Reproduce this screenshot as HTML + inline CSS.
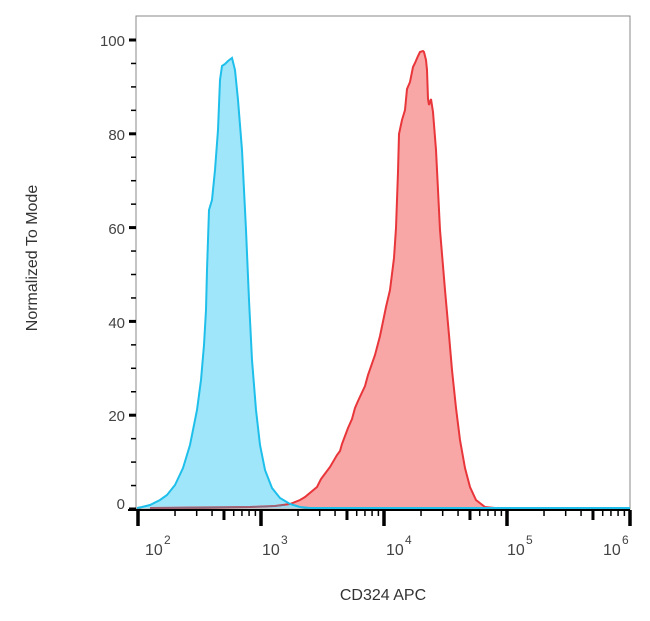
<!DOCTYPE html>
<html><head><style>body{margin:0;background:#fff}svg{display:block}</style></head><body>
<svg width="650" height="621" xmlns="http://www.w3.org/2000/svg" font-family="Liberation Sans, Arial, sans-serif">
<rect x="136" y="16" width="494" height="493" fill="none" stroke="#888" stroke-width="1"/>
<path d="M150,508 L200,507.5 L250,507 L275,506 L290,504 L300,500 L305,497 L317,487 L321,479 L324,475 L330,467 L337,455 L340,451 L342,444 L348,428 L352,419 L355,408 L358,401 L365,386 L368,375 L375,355 L380,336 L386,307 L390,290 L394,258 L396,228 L398,172 L399,134 L402,120 L405,110 L407,89 L410,82 L413,67 L415,63 L418,56 L420,52 L423,51 L424,52 L426,60 L427,70 L428,99 L429,105 L431,99 L433,112 L436,150 L440,230 L445,290 L449,335 L452,370 L456,408 L460,440 L465,468 L470,487 L476,500 L485,507 L495,508 Z" fill="#f9a6a7" stroke="none"/>
<path d="M137,508 L142,507 L150,505 L160,500 L167,495 L175,485 L183,468 L190,445 L197,410 L201,380 L204,345 L206,310 L207,270 L209,210 L212,200 L215,170 L218,130 L220,80 L222,66 L225,64 L228,61 L232,58 L235,70 L238,100 L242,150 L246,230 L249,300 L252,360 L256,410 L260,445 L265,470 L272,488 L280,498 L290,504 L300,507 L310,508 Z" fill="#8fe2fa" fill-opacity="0.85" stroke="none"/>
<path d="M150,508 L200,507.5 L250,507 L275,506 L290,504 L300,500 L305,497 L317,487 L321,479 L324,475 L330,467 L337,455 L340,451 L342,444 L348,428 L352,419 L355,408 L358,401 L365,386 L368,375 L375,355 L380,336 L386,307 L390,290 L394,258 L396,228 L398,172 L399,134 L402,120 L405,110 L407,89 L410,82 L413,67 L415,63 L418,56 L420,52 L423,51 L424,52 L426,60 L427,70 L428,99 L429,105 L431,99 L433,112 L436,150 L440,230 L445,290 L449,335 L452,370 L456,408 L460,440 L465,468 L470,487 L476,500 L485,507 L495,508" fill="none" stroke="#e8363a" stroke-width="2"/>
<path d="M137,508 L142,507 L150,505 L160,500 L167,495 L175,485 L183,468 L190,445 L197,410 L201,380 L204,345 L206,310 L207,270 L209,210 L212,200 L215,170 L218,130 L220,80 L222,66 L225,64 L228,61 L232,58 L235,70 L238,100 L242,150 L246,230 L249,300 L252,360 L256,410 L260,445 L265,470 L272,488 L280,498 L290,504 L300,507 L310,508 L630,508" fill="none" stroke="#1ebfea" stroke-width="2"/>
<path d="M150,508 L200,507.5 L250,507 L275,506 L285,505" fill="none" stroke="#8a6a80" stroke-width="1.5"/>
<g id="yt" stroke="#000"></g>
<g id="xt" stroke="#000"></g>
<g font-size="15" fill="#444" text-anchor="end">
<text x="125" y="46">100</text><text x="125" y="140">80</text><text x="125" y="234">60</text><text x="125" y="328">40</text><text x="125" y="421">20</text><text x="125" y="509">0</text>
</g>
<g font-size="16" fill="#444">
<text x="145" y="555">10</text><text x="164" y="544" font-size="12">2</text>
<text x="262" y="555">10</text><text x="281" y="544" font-size="12">3</text>
<text x="386" y="555">10</text><text x="405" y="544" font-size="12">4</text>
<text x="507" y="555">10</text><text x="526" y="544" font-size="12">5</text>
<text x="603" y="555">10</text><text x="622" y="544" font-size="12">6</text>
</g>
<text x="383" y="600" font-size="16" fill="#333" text-anchor="middle">CD324 APC</text>
<text transform="translate(37,258) rotate(-90)" font-size="16" fill="#333" text-anchor="middle">Normalized To Mode</text>
<script>
var ns="http://www.w3.org/2000/svg";
var yt=document.getElementById('yt');
for(var v=0;v<=100;v+=5){var y=509-v*4.69;var l=document.createElementNS(ns,'line');var maj=v%20==0;
l.setAttribute('x1',maj?129:131);l.setAttribute('x2',136);l.setAttribute('y1',y);l.setAttribute('y2',y);l.setAttribute('stroke-width',maj?3:1.5);yt.appendChild(l);}
var xt=document.getElementById('xt');
var bl=document.createElementNS(ns,'line');bl.setAttribute('x1',128);bl.setAttribute('x2',630);bl.setAttribute('y1',510);bl.setAttribute('y2',510);bl.setAttribute('stroke-width',2);xt.appendChild(bl);
for(var d=0;d<5;d++){for(var m=1;m<=9;m++){if(d==4&&m>1)break;var x=138+d*123+Math.log10(m)*123;var l=document.createElementNS(ns,'line');
var h=m==1?16:(m==5?10:6);var w=m==1?3.5:(m==5?3:1.5);
l.setAttribute('x1',x);l.setAttribute('x2',x);l.setAttribute('y1',510);l.setAttribute('y2',510+h);l.setAttribute('stroke-width',w);xt.appendChild(l);}}
</script>
</svg>
</body></html>
